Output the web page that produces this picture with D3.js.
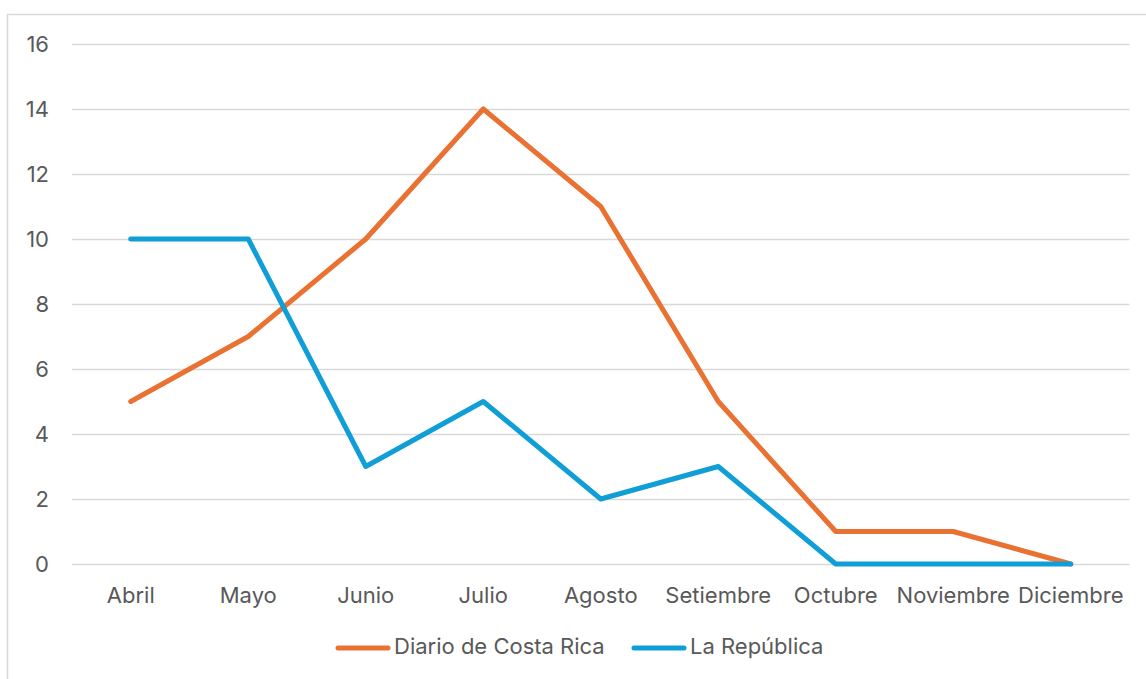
<!DOCTYPE html>
<html>
<head>
<meta charset="utf-8">
<script src="https://cdn.jsdelivr.net/npm/d3@7"></script>
<style>
  body { margin: 0; background: #fff; }
  svg { display: block; font-family: Inter, sans-serif; }
</style>
</head>
<body>
<div id="chart"></div>
<script>
/* Data */
const months = ["Abril", "Mayo", "Junio", "Julio", "Agosto", "Setiembre", "Octubre", "Noviembre", "Diciembre"]
const diarioValues = [5, 7, 10, 14, 11, 5, 1, 1, 0]
const republicaValues = [10, 10, 3, 5, 2, 3, 0, 0, 0]
const seriesNames = ["Diario de Costa Rica", "La República"]
const yTicks = [0, 2, 4, 6, 8, 10, 12, 14, 16]

/* Layout */
const WIDTH = 1146
const HEIGHT = 679
const LEFT = 72
const RIGHT = 1129.5
const TOP = 44
const BOTTOM = 564
const COLORS = ["#E97132", "#0F9ED5"]
const TEXT_COLOR = "#595959"
const FONT_SIZE = 22
const FONT = "Inter, sans-serif"

const svg = d3.select("#chart")
              .append("svg")
              .attr("width", WIDTH)
              .attr("height", HEIGHT);

/* Chart border */
svg.append("rect")
   .attr("x", 7.5).attr("y", 14.5)
   .attr("width", WIDTH + 20).attr("height", HEIGHT + 20)
   .attr("fill", "none")
   .attr("stroke", "#d9d9d9")
   .attr("stroke-width", 1.5);

const xScale = d3.scaleBand().domain(months).range([LEFT, RIGHT]);
const yScale = d3.scaleLinear().domain([0, 16]).range([BOTTOM, TOP]);

/* Gridlines + y labels */
const yAxis = d3.axisLeft(yScale).tickValues(yTicks).tickSize(-(RIGHT - LEFT)).tickPadding(23);
const yG = svg.append("g").attr("transform", "translate(" + LEFT + ",0)").call(yAxis);
yG.select(".domain").remove();
yG.selectAll(".tick line").attr("stroke", "#d9d9d9").attr("stroke-width", 1.5);
yG.selectAll(".tick text")
  .attr("fill", TEXT_COLOR)
  .style("font-size", FONT_SIZE + "px")
  .style("font-family", FONT);

/* x labels */
const xAxis = d3.axisBottom(xScale).tickSize(0).tickPadding(23);
const xG = svg.append("g").attr("transform", "translate(0," + BOTTOM + ")").call(xAxis);
xG.select(".domain").remove();
xG.selectAll(".tick text")
  .attr("fill", TEXT_COLOR)
  .style("font-size", FONT_SIZE + "px")
  .style("font-family", FONT);

/* Lines */
const line = d3.line()
               .x((d, i) => xScale(months[i]) + xScale.bandwidth() / 2)
               .y((d) => yScale(d));

[diarioValues, republicaValues].forEach((vals, k) => {
  svg.append("path")
     .datum(vals)
     .attr("d", line)
     .attr("fill", "none")
     .attr("stroke", COLORS[k])
     .attr("stroke-width", 5)
     .attr("stroke-linejoin", "round")
     .attr("stroke-linecap", "round");
});

/* Legend */
const legendX = [336, 632];
seriesNames.forEach((name, k) => {
  const g = svg.append("g").attr("transform", "translate(" + legendX[k] + ",648)");
  g.append("line")
   .attr("x1", 2).attr("x2", 52).attr("y1", 0).attr("y2", 0)
   .attr("stroke", COLORS[k]).attr("stroke-width", 5).attr("stroke-linecap", "round");
  g.append("text")
   .attr("x", 58).attr("y", 6)
   .attr("fill", TEXT_COLOR)
   .style("font-size", FONT_SIZE + "px")
   .style("font-family", FONT)
   .text(name);
});
</script>
</body>
</html>
